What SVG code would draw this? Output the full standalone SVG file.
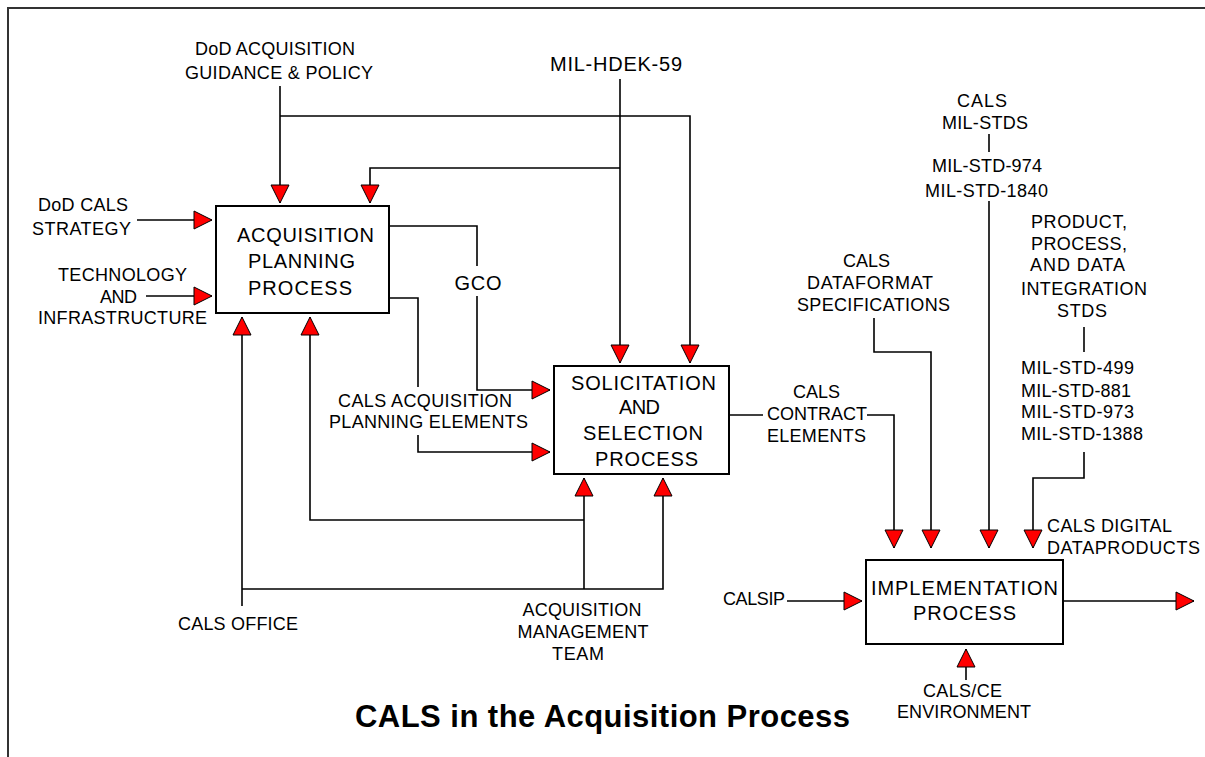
<svg xmlns="http://www.w3.org/2000/svg" width="1205" height="757" viewBox="0 0 1205 757">
<defs>
<marker id="arr" markerUnits="userSpaceOnUse" markerWidth="18" markerHeight="18" viewBox="0 0 18 18" refX="18" refY="9" orient="auto" overflow="visible">
<path d="M0,0 L18,9 L0,18 Z" fill="#ff0000" stroke="#000" stroke-width="1" stroke-linejoin="miter"/>
</marker>
<style>
text{font-family:"Liberation Sans",Arial,sans-serif;fill:#000}
.s{font-size:18px}
.m{font-size:20px}
.c{text-anchor:middle}
.box{fill:#fff;stroke:#000;stroke-width:2}
.ln{fill:none;stroke:#000;stroke-width:1.6}
.ar{marker-end:url(#arr)}
.frame{stroke:#333;stroke-width:2;fill:none}
</style>
</defs>
<rect width="1205" height="757" fill="#fff"/>
<path class="frame" d="M8,757 V8 H1205"/>

<g id="connectors">
<path class="ln ar" d="M280,86 V203"/>
<path class="ln ar" d="M280,116 H690 V363"/>
<path class="ln ar" d="M620,79 V363"/>
<path class="ln ar" d="M620,168 H370 V203"/>
<path class="ln ar" d="M137,220 H212"/>
<path class="ln ar" d="M146,296 H212"/>
<path class="ln" d="M389,226 H477 V266"/>
<path class="ln ar" d="M477,296 V390 H550"/>
<path class="ln" d="M389,298 H418 V387"/>
<path class="ln ar" d="M418,435 V452 H550"/>
<path class="ln ar" d="M242,606 V317"/>
<path class="ln ar" d="M242,589 H663 V478"/>
<path class="ln ar" d="M584,589 V478"/>
<path class="ln ar" d="M584,520 H310 V317"/>
<path class="ln" d="M729,415 H763"/>
<path class="ln ar" d="M867,415 H894 V548"/>
<path class="ln ar" d="M874,318 V352 H931 V548"/>
<path class="ln" d="M989,134 V152"/>
<path class="ln ar" d="M989,201 V548"/>
<path class="ln" d="M1084,327 V352"/>
<path class="ln ar" d="M1084,452 V478 H1033 V548"/>
<path class="ln ar" d="M787,601 H862"/>
<path class="ln ar" d="M1063,601 H1194"/>
<path class="ln ar" d="M966,680 V649"/>
</g>

<g id="acq-planning">
<rect class="box" x="216" y="206" width="173" height="107"/>
<text class="m c" x="305.5" y="242" textLength="137">ACQUISITION</text>
<text class="m c" x="301.5" y="268" textLength="107">PLANNING</text>
<text class="m c" x="300" y="295" textLength="104">PROCESS</text>
</g>

<g id="solicitation">
<rect class="box" x="554" y="366" width="175" height="108"/>
<text class="m c" x="643.5" y="390" textLength="145">SOLICITATION</text>
<text class="m c" x="639.5" y="414" textLength="41">AND</text>
<text class="m c" x="643" y="440" textLength="120">SELECTION</text>
<text class="m c" x="646.5" y="466" textLength="103">PROCESS</text>
</g>

<g id="implementation">
<rect class="box" x="866" y="560" width="197" height="84"/>
<text class="m c" x="964.5" y="595" textLength="187">IMPLEMENTATION</text>
<text class="m c" x="964.5" y="620" textLength="103">PROCESS</text>
</g>

<g id="dod-guidance">
<text class="s c" x="275" y="55" textLength="160">DoD ACQUISITION</text>
<text class="s c" x="279" y="79" textLength="188">GUIDANCE &amp; POLICY</text>
</g>
<g id="mil-hdek">
<text class="m c" x="616" y="71" textLength="132">MIL-HDEK-59</text>
</g>
<g id="dod-cals-strategy">
<text class="s c" x="83" y="211" textLength="90">DoD CALS</text>
<text class="s c" x="81.5" y="235" textLength="99">STRATEGY</text>
</g>
<g id="technology">
<text class="s c" x="122.5" y="281" textLength="129">TECHNOLOGY</text>
<text class="s c" x="118.5" y="303" textLength="37">AND</text>
<text class="s c" x="122.5" y="324" textLength="169">INFRASTRUCTURE</text>
</g>
<g id="gco">
<text class="m c" x="478" y="290" textLength="47">GCO</text>
</g>
<g id="cals-acq-elements">
<text class="s c" x="425" y="407" textLength="174">CALS ACQUISITION</text>
<text class="s c" x="428.5" y="428" textLength="199">PLANNING ELEMENTS</text>
</g>
<g id="cals-office">
<text class="s c" x="238" y="630" textLength="120">CALS OFFICE</text>
</g>
<g id="acq-mgmt-team">
<text class="s c" x="582" y="616" textLength="119">ACQUISITION</text>
<text class="s c" x="583" y="638" textLength="131">MANAGEMENT</text>
<text class="s c" x="578" y="660" textLength="52">TEAM</text>
</g>
<g id="cals-contract">
<text class="s c" x="816.5" y="398" textLength="47">CALS</text>
<text class="s c" x="817" y="420" textLength="100">CONTRACT</text>
<text class="s c" x="816.5" y="442" textLength="99">ELEMENTS</text>
</g>
<g id="cals-milstds">
<text class="s c" x="982" y="107" textLength="50">CALS</text>
<text class="s c" x="985" y="129" textLength="86">MIL-STDS</text>
<text class="s c" x="987" y="172" textLength="110">MIL-STD-974</text>
<text class="s c" x="986.5" y="197" textLength="123">MIL-STD-1840</text>
</g>
<g id="product-stds">
<text class="s c" x="1079" y="228" textLength="96">PRODUCT,</text>
<text class="s c" x="1079" y="250" textLength="96">PROCESS,</text>
<text class="s c" x="1077.5" y="271" textLength="95">AND DATA</text>
<text class="s c" x="1084" y="295" textLength="126">INTEGRATION</text>
<text class="s c" x="1082" y="317" textLength="50">STDS</text>
<text class="s" x="1021" y="374" textLength="113">MIL-STD-499</text>
<text class="s" x="1021" y="397" textLength="110">MIL-STD-881</text>
<text class="s" x="1021" y="418" textLength="113">MIL-STD-973</text>
<text class="s" x="1021" y="440" textLength="122">MIL-STD-1388</text>
</g>
<g id="dataformat">
<text class="s c" x="866.5" y="267" textLength="47">CALS</text>
<text class="s c" x="870" y="289" textLength="126">DATAFORMAT</text>
<text class="s c" x="873.5" y="311" textLength="153">SPECIFICATIONS</text>
</g>
<g id="digital-dataproducts">
<text class="s" x="1047" y="532" textLength="125">CALS DIGITAL</text>
<text class="s" x="1047" y="554" textLength="153">DATAPRODUCTS</text>
</g>
<g id="calsip">
<text class="s" x="723" y="605" textLength="62">CALSIP</text>
</g>
<g id="cals-ce">
<text class="s c" x="962.5" y="697" textLength="79">CALS/CE</text>
<text class="s c" x="964" y="718" textLength="134">ENVIRONMENT</text>
</g>
<g id="title">
<text class="c" x="602.5" y="727" font-size="31" font-weight="bold" textLength="495">CALS in the Acquisition Process</text>
</g>
</svg>
